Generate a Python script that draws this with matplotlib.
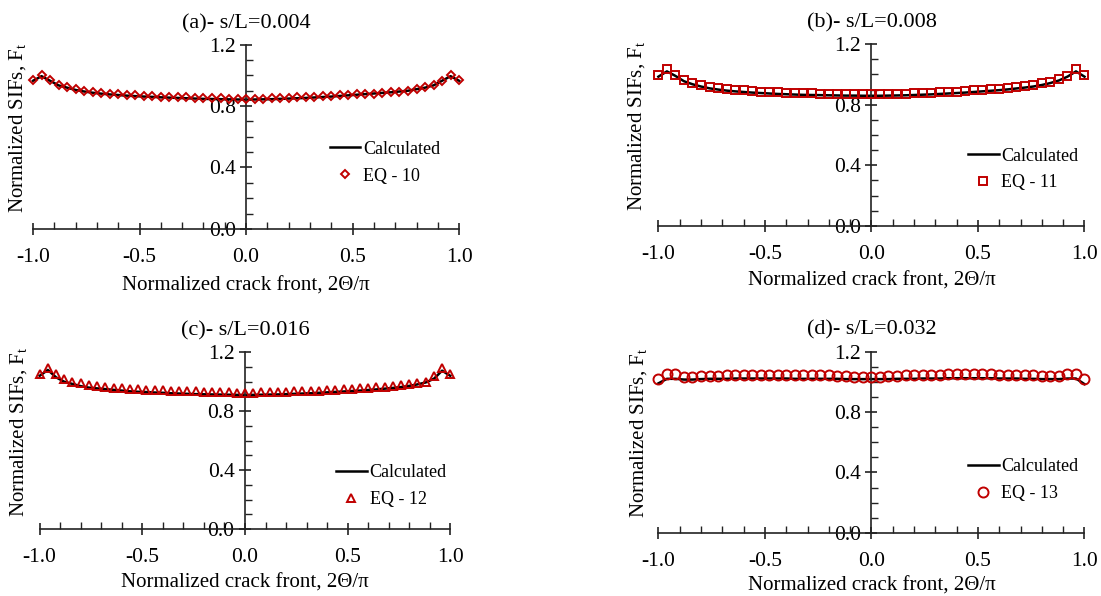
import numpy as np
import matplotlib
matplotlib.use("Agg")
import matplotlib.pyplot as plt
from matplotlib.ticker import MultipleLocator

plt.rcParams['font.family'] = ['Liberation Serif', 'DejaVu Serif']
plt.rcParams['mathtext.fontset'] = 'custom'
plt.rcParams['mathtext.rm'] = 'Liberation Serif'
plt.rcParams['mathtext.it'] = 'Liberation Serif'

# normalized crack front positions, 2*theta/pi (51 points, step 0.04)
x = np.round(np.linspace(-1, 1, 51), 2)

titles = ['(a)- s/L=0.004', '(b)- s/L=0.008', '(c)- s/L=0.016', '(d)- s/L=0.032']
eq_labels = ['EQ - 10', 'EQ - 11', 'EQ - 12', 'EQ - 13']

# (a) s/L = 0.004
calc_a = [0.965, 0.995, 0.965, 0.935, 0.92, 0.905, 0.895, 0.887, 0.881, 0.876, 0.872, 0.868, 0.865,
          0.862, 0.86, 0.857, 0.855, 0.853, 0.851, 0.849, 0.847, 0.846, 0.845, 0.844, 0.843,
          0.842,
          0.843, 0.844, 0.845, 0.847, 0.849, 0.851, 0.853, 0.856, 0.859, 0.862, 0.866, 0.87, 0.874,
          0.878, 0.882, 0.886, 0.89, 0.895, 0.90, 0.91, 0.92, 0.935, 0.965, 0.995, 0.965]
eq_a = [0.97, 1.00, 0.97, 0.935, 0.925, 0.91, 0.90, 0.89, 0.885, 0.88, 0.877, 0.874, 0.871,
        0.868, 0.865, 0.862, 0.86, 0.858, 0.856, 0.854, 0.852, 0.851, 0.85, 0.849, 0.848,
        0.847,
        0.848, 0.849, 0.85, 0.852, 0.854, 0.856, 0.858, 0.861, 0.864, 0.867, 0.87, 0.873, 0.876,
        0.879, 0.882, 0.886, 0.89, 0.895, 0.90, 0.91, 0.925, 0.935, 0.965, 1.00, 0.97]

# (b) s/L = 0.008
calc_b = [0.985, 1.02, 0.99, 0.955, 0.935, 0.92, 0.908, 0.9, 0.893, 0.888, 0.884, 0.88, 0.877,
          0.874, 0.871, 0.869, 0.867, 0.865, 0.864, 0.863, 0.862, 0.861, 0.86, 0.86, 0.859,
          0.859,
          0.859, 0.86, 0.861, 0.862, 0.864, 0.866, 0.868, 0.871, 0.874, 0.877, 0.88, 0.884, 0.888,
          0.892, 0.896, 0.901, 0.907, 0.913, 0.92, 0.93, 0.943, 0.96, 0.985, 1.02, 0.985]
eq_b = [0.995, 1.035, 0.995, 0.965, 0.945, 0.93, 0.918, 0.91, 0.903, 0.898, 0.894, 0.89, 0.887,
        0.884, 0.881, 0.879, 0.877, 0.875, 0.874, 0.873, 0.872, 0.871, 0.87, 0.87, 0.869,
        0.869,
        0.869, 0.87, 0.871, 0.872, 0.874, 0.876, 0.878, 0.881, 0.884, 0.887, 0.89, 0.894, 0.898,
        0.902, 0.906, 0.911, 0.917, 0.923, 0.93, 0.94, 0.953, 0.97, 0.99, 1.035, 0.995]

# (c) s/L = 0.016
calc_c = [1.04, 1.08, 1.03, 1.0, 0.985, 0.97, 0.96, 0.955, 0.95, 0.945, 0.94, 0.935, 0.932,
          0.93, 0.927, 0.925, 0.922, 0.92, 0.918, 0.916, 0.915, 0.914, 0.913, 0.912, 0.911,
          0.91,
          0.911, 0.912, 0.913, 0.914, 0.916, 0.918, 0.92, 0.922, 0.925, 0.928, 0.931, 0.934, 0.937,
          0.94, 0.944, 0.948, 0.953, 0.958, 0.964, 0.972, 0.982, 0.995, 1.02, 1.075, 1.04]
eq_c = [1.05, 1.09, 1.05, 1.02, 1.0, 0.99, 0.98, 0.97, 0.965, 0.96, 0.955, 0.952, 0.95,
        0.947, 0.945, 0.942, 0.94, 0.938, 0.936, 0.934, 0.932, 0.93, 0.929, 0.928, 0.927,
        0.926,
        0.927, 0.928, 0.929, 0.93, 0.932, 0.934, 0.936, 0.938, 0.94, 0.943, 0.946, 0.949, 0.952,
        0.955, 0.958, 0.962, 0.966, 0.97, 0.976, 0.983, 0.99, 1.0, 1.04, 1.09, 1.05]

# (d) s/L = 0.032
calc_d = [0.99, 1.02, 1.02, 1.015, 1.015, 1.018, 1.02, 1.02, 1.02, 1.022, 1.022, 1.022, 1.022,
          1.022, 1.022, 1.022, 1.02, 1.02, 1.02, 1.02, 1.02, 1.02, 1.018, 1.018, 1.018,
          1.018,
          1.018, 1.018, 1.02, 1.02, 1.02, 1.022, 1.022, 1.022, 1.024, 1.024, 1.024, 1.024, 1.024,
          1.024, 1.022, 1.022, 1.022, 1.02, 1.02, 1.018, 1.018, 1.018, 1.022, 1.022, 0.985]
eq_d = [1.02, 1.05, 1.055, 1.035, 1.035, 1.04, 1.04, 1.04, 1.042, 1.045, 1.045, 1.045, 1.047,
        1.047, 1.047, 1.045, 1.045, 1.045, 1.045, 1.043, 1.043, 1.04, 1.037, 1.035, 1.035,
        1.035,
        1.035, 1.037, 1.04, 1.043, 1.045, 1.045, 1.047, 1.047, 1.05, 1.05, 1.052, 1.052, 1.052,
        1.05, 1.047, 1.045, 1.045, 1.043, 1.042, 1.04, 1.04, 1.038, 1.052, 1.055, 1.02]

calcs = [calc_a, calc_b, calc_c, calc_d]
eqs = [eq_a, eq_b, eq_c, eq_d]
markers = ['D', 's', '^', 'o']
msizes = [4.5, 6.2, 5.5, 7.2]

# axes rectangles [left, bottom, width, height] in figure fraction
rects = [[0.030, 0.616, 0.387, 0.309],
         [0.598, 0.621, 0.387, 0.305],
         [0.036, 0.112, 0.373, 0.297],
         [0.598, 0.106, 0.387, 0.304]]
ylab_x = [-0.012, -0.026, -0.027, -0.021]
xlab_y = [-0.26, -0.25, -0.25, -0.24]
leg_pos = [(0.675, 0.36), (0.705, 0.31), (0.70, 0.245), (0.705, 0.29)]

red = '#C00000'
fig = plt.figure(figsize=(11.01, 5.96), dpi=100)

for i in range(4):
    ax = fig.add_axes(rects[i])
    ax.plot(x, calcs[i], color='black', lw=1.8, label='Calculated', zorder=2, clip_on=False)
    ax.plot(x, eqs[i], ls='none', marker=markers[i], ms=msizes[i], mfc='none', mec=red,
            mew=1.4, label=eq_labels[i], zorder=3, clip_on=False)

    ax.set_xlim(-1, 1)
    ax.set_ylim(0, 1.2)
    ax.spines['left'].set_position('zero')
    ax.spines['bottom'].set_position('zero')
    ax.spines['right'].set_visible(False)
    ax.spines['top'].set_visible(False)
    for s in ['left', 'bottom']:
        ax.spines[s].set_linewidth(1.2)
        ax.spines[s].set_color('#222222')

    ax.xaxis.set_major_locator(MultipleLocator(0.5))
    ax.xaxis.set_minor_locator(MultipleLocator(0.1))
    ax.yaxis.set_major_locator(MultipleLocator(0.4))
    ax.yaxis.set_minor_locator(MultipleLocator(0.1))
    ax.xaxis.set_major_formatter(matplotlib.ticker.FormatStrFormatter('%.1f'))
    ax.yaxis.set_major_formatter(matplotlib.ticker.FormatStrFormatter('%.1f'))
    ax.tick_params(which='major', direction='inout', length=9, width=1.2, labelsize=15.5,
                   color='#222222')
    ax.tick_params(which='minor', direction='in', length=5, width=1.0, color='#222222')
    ax.tick_params(axis='x', which='major', pad=9)
    ax.tick_params(axis='y', which='major', pad=3)

    ax.set_title(titles[i], fontsize=16, pad=12)
    ax.set_xlabel('Normalized crack front, 2\u0398/\u03c0', fontsize=15)
    ax.xaxis.set_label_coords(0.5, xlab_y[i])
    ax.set_ylabel('Normalized SIFs, F$_\\mathregular{t}$', fontsize=15)
    ax.yaxis.set_label_coords(ylab_x[i], 0.55)

    ax.legend(loc='center left', bbox_to_anchor=leg_pos[i], frameon=False, fontsize=13,
              handlelength=1.7, handletextpad=0.15, labelspacing=0.55, borderpad=0)

fig.savefig('out.png', dpi=100)
